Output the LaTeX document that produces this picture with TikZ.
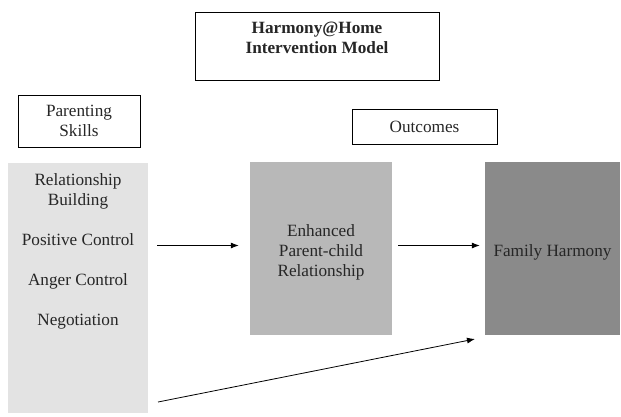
\documentclass[tikz,border=0pt]{standalone}
\usepackage{fontspec}
\setmainfont{Liberation Serif}
\usetikzlibrary{arrows.meta,positioning}

\begin{document}
\begin{tikzpicture}[x=1pt,y=-1pt,
		font=\fontsize{17.2}{20}\selectfont,
		every node/.style={text=black!85, inner sep=0pt},
		labelbox/.style={draw, line width=0.9pt, align=center},
		shadebox/.style={minimum height=173pt},
		flow/.style={-{Latex[length=8pt,width=6pt]}, line width=0.8pt}]

	\useasboundingbox (0,0) rectangle (621,416);

	\node[labelbox, minimum width=244pt, minimum height=68pt] (title) at (317,46) {};
	\node[below=10pt of title.north, align=center, font=\fontsize{17.2}{20}\selectfont\bfseries] (titletext) {Harmony@Home\\Intervention Model};

	\node[labelbox, minimum width=122pt, minimum height=52pt, text depth=0pt] (skillhead) at (79,121) {Parenting\\Skills};
	\node[labelbox, minimum width=145pt, minimum height=35pt, text depth=0pt] (outhead) at (424.5,126.5) {Outcomes};

	\node[fill=black!11, minimum width=140pt, minimum height=250pt] (skillbox) at (78,288) {};
	\node[anchor=north, align=center] (skilllist) at (78,173.5) {Relationship\\Building\\[20pt]Positive Control\\[20pt]Anger Control\\[20pt]Negotiation};

	\node[shadebox, fill=black!28, minimum width=142pt] (enhanced) at (321,248.5) {};
	\node[align=center, yshift=-3.5pt] (enhancedtext) at (enhanced) {Enhanced\\Parent-child\\Relationship};
	\node[shadebox, fill=black!46, minimum width=135pt] (harmony) at (552.5,248.5) {};
	\node[yshift=-3.5pt] (harmonytext) at (harmony) {Family Harmony};

	\draw[flow, shorten <=9pt, shorten >=11pt] ([yshift=3pt]skillbox.east |- enhanced.west) -- ([yshift=3pt]enhanced.west);
	\draw[flow, shorten <=6pt, shorten >=5pt] ([yshift=3pt]enhanced.east) -- ([yshift=3pt]harmony.west);

	\coordinate (lowstart) at (158,402);
	\coordinate (lowend) at (475,339);
	\draw[flow] (lowstart) -- (lowend);

\end{tikzpicture}
\end{document}
